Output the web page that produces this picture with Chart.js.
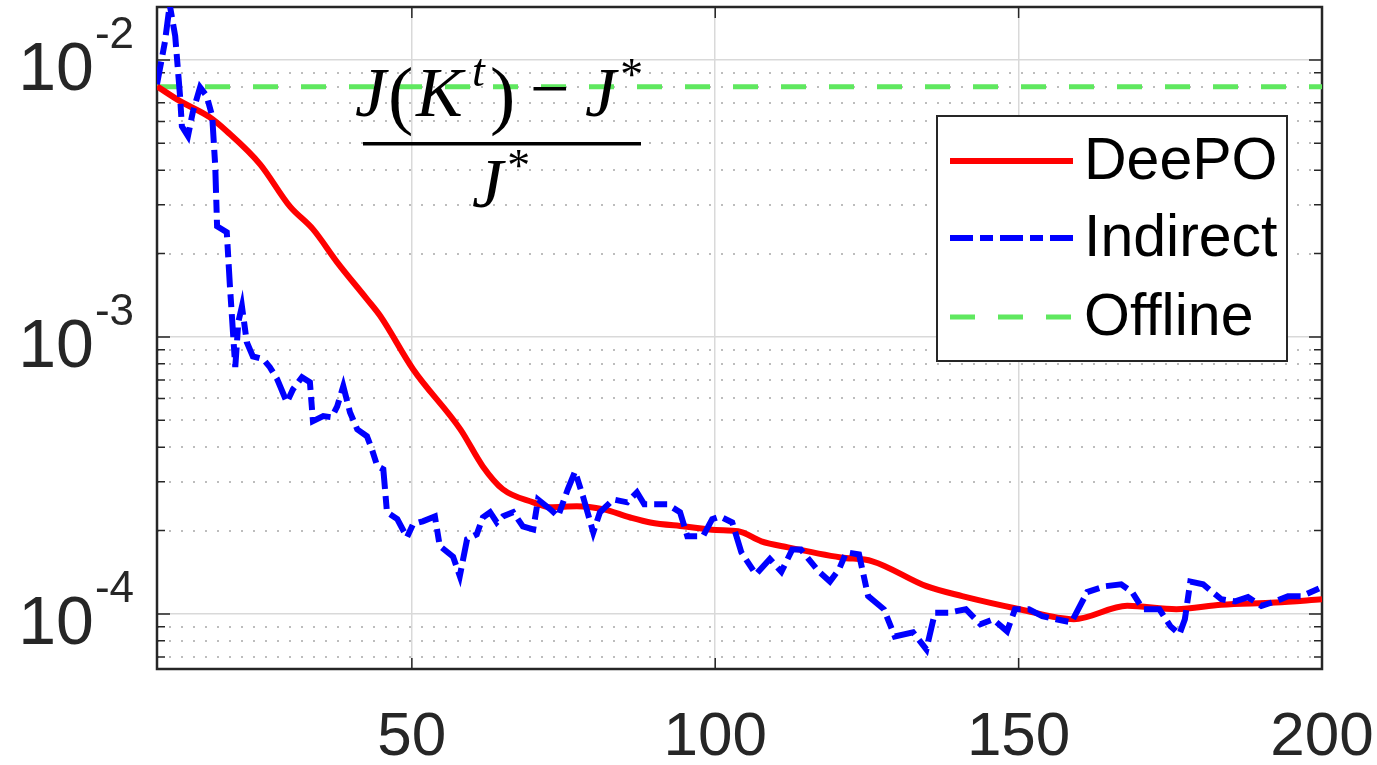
<!DOCTYPE html>
<html>
<head>
<meta charset="utf-8">
<script src="https://cdn.jsdelivr.net/npm/chart.js@4.4.0/dist/chart.umd.min.js"></script>
<style>
  body { margin: 0; background: #fff; }
  #wrap { width: 1377px; height: 765px; }
</style>
</head>
<body>
<div id="wrap"><canvas id="chart" width="1377" height="765"></canvas></div>
<script>
// Data (x = iteration, y = relative cost gap)
const deepoX = [8, 11.8, 16.7, 19.5, 25, 29.9, 33.7, 37.7, 42.6, 44.8, 50.2, 58, 61.7, 65, 70, 72.8, 77.2,
    81.5, 86, 89.3, 95, 100.1, 103.8, 107.6, 112, 120.7, 125.9, 134.8, 140.7, 150.2, 159.1, 167.9, 176,
    183.4, 192.3, 200];
const deepoY = [0.00803, 0.0071, 0.00621, 0.00553, 0.0042, 0.00296, 0.00245, 0.00186, 0.00137, 0.00119,
    0.000765, 0.000464, 0.000341, 0.000282, 0.000253, 0.000243, 0.000245, 0.000239, 0.000223, 0.000214,
    0.000207, 0.000201, 0.000199, 0.000183, 0.000174, 0.00016, 0.000155, 0.000126, 0.000116, 0.000104,
    0.0000957, 0.000107, 0.000104, 0.000108, 0.00011, 0.000113];

const indirectX = [8, 9.3, 10.1, 11, 11.8, 12.1, 13.1, 13.9, 15.1, 16.2, 17.1, 17.6, 17.9, 19.5, 20, 20.9,
    21.4, 22, 22.8, 23.8, 25.5, 26.6, 27.8, 29.4, 30.4, 31.9, 33.2, 33.7, 35.4, 36.8, 37.7, 38.7, 39.8,
    41, 42.6, 43.4, 44.3, 45.3, 45.9, 47.6, 49.2, 50.2, 51.8, 53.8, 54.6, 56.8, 57.9, 59.1, 60.7, 61.7,
    62.9, 64, 65, 66.7, 68.3, 70, 70.8, 72.8, 74.1, 75.7, 76.9, 78.2, 79.9, 81, 83.2, 85.5, 87.1, 88.3,
    92.1, 94.2, 95.4, 98, 99.5, 100.8, 102.8, 104.3, 106.7, 109, 110.9, 112.7, 114.1, 117.1, 118.9, 120.4,
    121.6, 123.7, 125.2, 127.8, 129.6, 132.6, 134.8, 136.2, 138.4, 141.3, 143.7, 145.8, 148.1, 149.4,
    151.7, 153.9, 156.2, 158.7, 161.3, 164.3, 166.9, 168.7, 170.5, 173.2, 175, 176.5, 177.4, 178.3,
    180.4, 183.4, 185.7, 187.8, 190, 192.3, 194.4, 196.7, 198.2, 200];
const indirectY = [0.00817, 0.0116, 0.0158, 0.0122, 0.0074, 0.00576, 0.00531, 0.00648, 0.00797, 0.0074,
    0.00626, 0.00413, 0.00251, 0.00239, 0.00155, 0.000778, 0.00113, 0.00129, 0.000957, 0.000851,
    0.000831, 0.000778, 0.000704, 0.000581, 0.000647, 0.000716, 0.000687, 0.000497, 0.000518, 0.000513,
    0.000562, 0.000664, 0.000535, 0.000464, 0.000438, 0.000394, 0.000342, 0.000333, 0.000233, 0.00022,
    0.000189, 0.000211, 0.000216, 0.000225, 0.000176, 0.000161, 0.000137, 0.000186, 0.000194, 0.000223,
    0.000233, 0.000214, 0.000225, 0.000233, 0.000207, 0.000202, 0.000259, 0.000239, 0.000225, 0.000282,
    0.000327, 0.000266, 0.000197, 0.000233, 0.000259, 0.000253, 0.000275, 0.000249, 0.000249, 0.000233,
    0.000191, 0.000191, 0.00022, 0.000225, 0.000214, 0.000167, 0.000139, 0.000158, 0.000142, 0.000171,
    0.000171, 0.000142, 0.000131, 0.000145, 0.000167, 0.000164, 0.000116, 0.000104, 0.000083, 0.0000859,
    0.0000745, 0.000101, 0.000101, 0.000104, 0.0000918, 0.0000957, 0.0000866, 0.000104, 0.000104,
    0.0000982, 0.0000957, 0.0000933, 0.00012, 0.000126, 0.000128, 0.00012, 0.000104, 0.000104, 0.0000904,
    0.0000845, 0.0000957, 0.000131, 0.000128, 0.000113, 0.000111, 0.000115, 0.000107, 0.000111, 0.000116,
    0.000116, 0.00012, 0.000125];

const offlineValue = 0.008;
const offlineX = [8, 200];

const xTicks = [50, 100, 150, 200];
const yTickExps = [-2, -3, -4];
const xMin = 8, xMax = 200;
const yMin = 6.33e-5, yMax = 0.01553;

const seriesLabels = ['DeePO', 'Indirect', 'Offline'];

// styles
const RED = '#ff0000';
const BLUE = '#0000ff';
const GREEN = '#5fe85f';
const AXIS = '#262626';
const BLUE_DASH = [23, 7, 13, 7];
const GREEN_DASH = [25, 23];
const SANS = '"Liberation Sans", Arial, sans-serif';
const SERIF = '"Liberation Serif", "DejaVu Serif", serif';

function toPoints(xs, ys) {
    return xs.map((x, i) => ({ x: x, y: ys[i] }));
}

function isDecade(v) {
    const e = Math.log10(v);
    return Math.abs(e - Math.round(e)) < 1e-6;
}

// y labels: "10" with a raised exponent
const yLabelPlugin = {
    id: 'yLabels',
    afterDraw(chart) {
        const ctx = chart.ctx;
        const ys = chart.scales.y;
        ctx.save();
        ctx.fillStyle = AXIS;
        ctx.textBaseline = 'alphabetic';
        yTickExps.forEach(e => {
            const py = ys.getPixelForValue(Math.pow(10, e));
            const sup = String(e);
            const right = 134;
            ctx.font = '44px ' + SANS;
            const supW = ctx.measureText(sup).width;
            ctx.textAlign = 'left';
            ctx.fillText(sup, right - supW, py - 12);
            ctx.font = '68px ' + SANS;
            ctx.textAlign = 'right';
            ctx.fillText('10', right - supW - 1, py + 30);
        });
        ctx.restore();
    }
};

// axes box with inward ticks (drawn under the lines)
const boxPlugin = {
    id: 'box',
    beforeDatasetsDraw(chart) {
        const ctx = chart.ctx;
        const a = chart.chartArea;
        const xs = chart.scales.x, ys = chart.scales.y;
        ctx.save();
        ctx.strokeStyle = AXIS;
        ctx.lineWidth = 1.5;
        ys.ticks.forEach(t => {
            const py = ys.getPixelForValue(t.value);
            const len = isDecade(t.value) ? 13 : 8;
            ctx.beginPath();
            ctx.moveTo(a.left, py); ctx.lineTo(a.left + len, py);
            ctx.moveTo(a.right, py); ctx.lineTo(a.right - len, py);
            ctx.stroke();
        });
        xs.ticks.forEach(t => {
            const px = xs.getPixelForValue(t.value);
            ctx.beginPath();
            ctx.moveTo(px, a.bottom); ctx.lineTo(px, a.bottom - 11);
            ctx.moveTo(px, a.top); ctx.lineTo(px, a.top + 11);
            ctx.stroke();
        });
        ctx.lineWidth = 2.5;
        ctx.strokeRect(a.left, a.top, a.right - a.left, a.bottom - a.top);
        ctx.restore();
    }
};

// legend box and the formula
const overlayPlugin = {
    id: 'overlay',
    afterDraw(chart) {
        const ctx = chart.ctx;
        ctx.save();
        // legend
        const lx = 937, ly = 116, lw = 350, lh = 245;
        ctx.fillStyle = '#ffffff';
        ctx.fillRect(lx, ly, lw, lh);
        ctx.strokeStyle = AXIS;
        ctx.lineWidth = 2;
        ctx.strokeRect(lx, ly, lw, lh);
        const rows = [161, 238, 317];
        chart.data.datasets.forEach((ds, i) => {
            const y = rows[i];
            ctx.beginPath();
            ctx.strokeStyle = ds.borderColor;
            ctx.lineWidth = ds.borderWidth;
            ctx.setLineDash(ds.borderDash || []);
            ctx.moveTo(950, y);
            ctx.lineTo(1073, y);
            ctx.stroke();
            ctx.setLineDash([]);
            ctx.fillStyle = '#000';
            ctx.font = '59px ' + SANS;
            ctx.textAlign = 'left';
            ctx.textBaseline = 'middle';
            ctx.fillText(ds.label, 1084, y + 2);
        });

        // formula (J(K^t) - J*) / J*
        const F = 70;
        const it = 'italic ' + F + 'px ' + SERIF;
        const sit = 'italic 46px ' + SERIF;
        const par = '76px ' + SERIF;
        const rm = F + 'px ' + SERIF;
        const base = 116;
        ctx.fillStyle = '#000';
        ctx.textAlign = 'left';
        ctx.textBaseline = 'alphabetic';
        ctx.font = it;  ctx.fillText('J', 355, base);
        ctx.font = par; ctx.fillText('(', 388, base + 4);
        ctx.font = it;  ctx.fillText('K', 416, base);
        ctx.font = sit; ctx.fillText('t', 472, base - 30);
        ctx.font = par; ctx.fillText(')', 490, base + 4);
        ctx.font = rm;  ctx.fillText('\u2212', 530, base - 4);
        ctx.font = it;  ctx.fillText('J', 585, base);
        ctx.font = sit; ctx.fillText('*', 618, base - 26);
        ctx.fillRect(363, 142, 278, 3.5);
        ctx.font = it;  ctx.fillText('J', 472, 207);
        ctx.font = sit; ctx.fillText('*', 505, 181);
        ctx.restore();
    }
};

const chart = new Chart(document.getElementById('chart'), {
    type: 'line',
    data: {
        datasets: [
            {
                label: seriesLabels[0],
                data: toPoints(deepoX, deepoY),
                borderColor: RED,
                borderWidth: 6,
                pointRadius: 0,
                cubicInterpolationMode: 'monotone',
                order: 2
            },
            {
                label: seriesLabels[1],
                data: toPoints(indirectX, indirectY),
                borderColor: BLUE,
                borderWidth: 6,
                borderDash: BLUE_DASH,
                pointRadius: 0,
                tension: 0,
                order: 1
            },
            {
                label: seriesLabels[2],
                data: toPoints(offlineX, [offlineValue, offlineValue]),
                borderColor: GREEN,
                borderWidth: 5,
                borderDash: GREEN_DASH,
                pointRadius: 0,
                order: 3
            }
        ]
    },
    options: {
        responsive: false,
        animation: false,
        layout: { padding: { left: 0, right: 55, top: 7, bottom: 0 } },
        plugins: {
            legend: { display: false },
            tooltip: { enabled: false }
        },
        scales: {
            x: {
                type: 'linear',
                min: xMin,
                max: xMax,
                afterBuildTicks: s => { s.ticks = xTicks.map(v => ({ value: v })); },
                afterFit: s => { s.height = 96; s.paddingLeft = 0; s.paddingRight = 0; },
                grid: {
                    color: ctx => (ctx.tick && ctx.tick.value < xMax) ? '#d9d9d9' : 'rgba(0,0,0,0)',
                    lineWidth: 1.5,
                    drawTicks: false
                },
                border: { display: false },
                ticks: {
                    color: AXIS,
                    font: { family: SANS, size: 62 },
                    padding: 32,
                    maxRotation: 0,
                    autoSkip: false
                }
            },
            y: {
                type: 'logarithmic',
                min: yMin,
                max: yMax,
                afterBuildTicks: s => {
                    const t = [];
                    for (let e = -5; e <= -2; e++) {
                        for (let m = 1; m <= 9; m++) {
                            const v = m * Math.pow(10, e);
                            if (v >= yMin && v <= yMax) t.push({ value: v });
                        }
                    }
                    s.ticks = t;
                },
                afterFit: s => { s.width = 157; },
                grid: {
                    color: ctx => (ctx.tick && isDecade(ctx.tick.value)) ? '#d9d9d9' : '#bdbdbd',
                    lineWidth: ctx => (ctx.tick && isDecade(ctx.tick.value)) ? 1.5 : 2,
                    drawTicks: false
                },
                border: {
                    display: false,
                    dash: ctx => (ctx.tick && isDecade(ctx.tick.value)) ? [] : [2, 10]
                },
                ticks: { display: false }
            }
        }
    },
    plugins: [boxPlugin, yLabelPlugin, overlayPlugin]
});
</script>
</body>
</html>
